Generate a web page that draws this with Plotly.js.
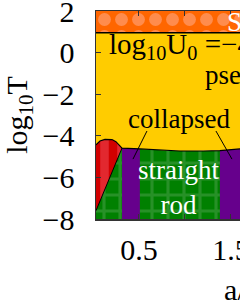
<!DOCTYPE html>
<html><head><meta charset="utf-8">
<script src="https://cdn.plot.ly/plotly-3.0.1.min.js"></script>
<style>html,body{margin:0;padding:0;overflow:hidden;background:#fff}</style>
</head><body><div id="chart"></div>
<script>
// ---- data ----
const xMin = 0.033, xMax = 3.229, yMin = -8, yMax = 2;
// top edge of lower phases (boundary with yellow region)
const boundaryX = [0.316, 0.51, 0.75, 0.946, 1.2, 1.38, 1.6, 2.0, 2.5, 3.0, 3.229];
const boundaryY = [-4.59, -4.63, -4.70, -4.73, -4.73, -4.71, -4.63, -4.60, -4.58, -4.56, -4.55];
// top curve of red region
const redTopX = [0.033, 0.076, 0.13, 0.207, 0.25, 0.316];
const redTopY = [-4.44, -4.25, -4.17, -4.18, -4.28, -4.59];
// red / green dividing line
const diagX = [0.316, 0.033];
const diagY = [-4.59, -7.6];
// collapsed (purple) bands
const purpleLo = [0.316, 1.38];
const purpleHi = [0.51, 1.75];
// orange band
const orangeLo = 0.95;
// axis ticks
const yTickVals = [-8, -6, -4, -2, 0, 2];
// labels
const labelText = ['SAW', 'log<sub>10</sub>U<sub>0</sub> =\u22124.8', 'pseudo-coil', 'collapsed', 'straight<br>rod'];
const labelX = [1.435, 0.153, 1.196, 0.935, 0.935];
const labelY = [1.47, 0.32, -1.1, -3.2, -6.5];
const leaderX0 = [0.587, 1.337], leaderY0 = [-3.77, -3.77];
const leaderX1 = [0.435, 1.511], leaderY1 = [-5.12, -5.12];

const F = 'Liberation Serif, Times New Roman, serif';
const traces = [];
// green (straight rod) region
traces.push({
  x: [xMin, xMin, ...redTopX, ...boundaryX.slice(1), xMax, xMin],
  y: [yMin, redTopY[0], ...redTopY, ...boundaryY.slice(1), yMin, yMin],
  mode: 'lines', fill: 'toself', line: {width: 0}, fillcolor: '#008000',
  fillpattern: {shape: '+', fgcolor: '#279127', bgcolor: '#008000', size: 16, solidity: 0.35},
  hoverinfo: 'skip', showlegend: false
});
// red region
traces.push({
  x: [...redTopX, diagX[1], redTopX[0]],
  y: [...redTopY, diagY[1], redTopY[0]],
  mode: 'lines', fill: 'toself', line: {width: 0}, fillcolor: '#d20000',
  fillpattern: {shape: '|', fgcolor: '#e2282f', bgcolor: '#d20000', size: 17, solidity: 0.5},
  hoverinfo: 'skip', showlegend: false
});
// purple bands
for (let i = 0; i < purpleLo.length; i++) {
  traces.push({
    x: [purpleLo[i], purpleLo[i], purpleHi[i], purpleHi[i], purpleLo[i]],
    y: [yMin, -4.0, -4.0, yMin, yMin],
    mode: 'lines', fill: 'toself', line: {width: 0}, fillcolor: '#66008c',
    hoverinfo: 'skip', showlegend: false
  });
}
// yellow region
const yelX = [xMin, xMax, ...boundaryX.slice().reverse(), ...redTopX.slice(0, -1).reverse(), xMin];
const yelY = [orangeLo, orangeLo, ...boundaryY.slice().reverse(), ...redTopY.slice(0, -1).reverse(), orangeLo];
traces.push({x: yelX, y: yelY, mode: 'lines', fill: 'toself', line: {width: 0}, fillcolor: '#ffcc00', hoverinfo: 'skip', showlegend: false});
// orange band
traces.push({
  x: [xMin, xMax, xMax, xMin, xMin], y: [orangeLo, orangeLo, yMax, yMax, orangeLo],
  mode: 'lines', fill: 'toself', line: {width: 0}, fillcolor: '#ff6600',
  fillpattern: {shape: '.', fgcolor: '#ff8c4d', bgcolor: '#ff6600', size: 17, solidity: 0.45},
  hoverinfo: 'skip', showlegend: false
});
// boundary lines
traces.push({x: [...redTopX, ...boundaryX.slice(1)], y: [...redTopY, ...boundaryY.slice(1)], mode: 'lines', line: {color: '#000', width: 1.2}, hoverinfo: 'skip', showlegend: false});
traces.push({x: diagX, y: diagY, mode: 'lines', line: {color: '#000', width: 1}, hoverinfo: 'skip', showlegend: false});
traces.push({x: [xMin, xMax], y: [orangeLo, orangeLo], mode: 'lines', line: {color: '#000', width: 1.5}, hoverinfo: 'skip', showlegend: false});
// leader lines
for (let i = 0; i < leaderX0.length; i++) {
  traces.push({x: [leaderX0[i], leaderX1[i]], y: [leaderY0[i], leaderY1[i]], mode: 'lines', line: {color: '#000', width: 1}, hoverinfo: 'skip', showlegend: false});
}

const labelColor = ['#fff', '#000', '#000', '#000', '#fff'];
const labelAnchor = ['left', 'left', 'left', 'center', 'center'];
const labelSize = [27, 29, 27, 27, 27];
const annotations = labelText.map((t, i) => ({
  text: t, x: labelX[i], y: labelY[i], xref: 'x', yref: 'y', showarrow: false,
  xanchor: labelAnchor[i], yanchor: 'middle', font: {family: F, size: labelSize[i], color: labelColor[i]}
}));

const axisCommon = {
  showgrid: false, zeroline: false, showline: true, mirror: 'ticks', linecolor: '#333', linewidth: 1.5,
  ticks: 'inside', ticklen: 5, tickwidth: 1, tickcolor: '#333', ticklabeloverflow: 'allow',
  tickfont: {family: F, size: 30, color: '#000'}
};
const layout = {
  width: 400, height: 306,
  margin: {l: 96, r: 10, t: 11, b: 87},
  paper_bgcolor: '#fff', plot_bgcolor: '#fff',
  xaxis: Object.assign({}, axisCommon, {
    range: [xMin, xMax], tickmode: 'linear', tick0: 0.5, dtick: 1,
    minor: {tickmode: 'linear', tick0: 0.5, dtick: 0.5, ticks: 'inside', ticklen: 5, tickwidth: 1, tickcolor: '#333', showgrid: false},
    ticklabelstandoff: 3,
    title: {text: 'a/\u03c3', font: {family: F, size: 30, color: '#000'}, standoff: 14}
  }),
  yaxis: Object.assign({}, axisCommon, {
    range: [yMin, yMax], tickmode: 'array', tickvals: yTickVals,
    ticklabelstandoff: 14,
    title: {text: 'log<sub>10</sub>T', font: {family: F, size: 30, color: '#000'}, standoff: 14}
  }),
  annotations: annotations,
  showlegend: false
};
Plotly.newPlot('chart', traces, layout, {staticPlot: true, displayModeBar: false});
</script></body></html>
